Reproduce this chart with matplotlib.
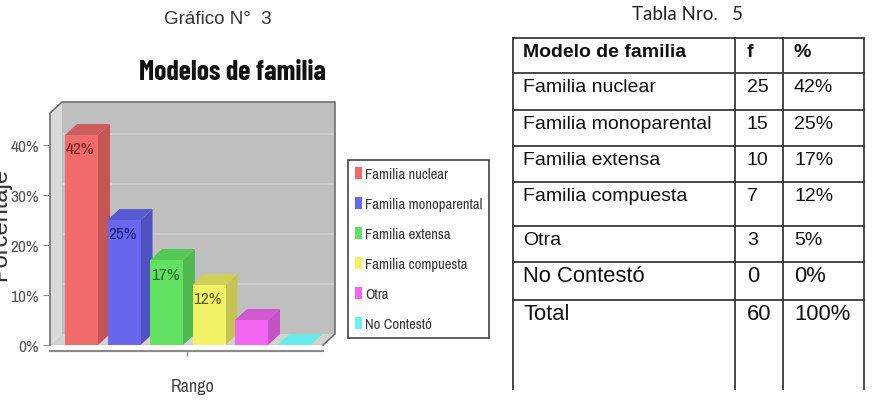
import matplotlib
matplotlib.use("Agg")
import matplotlib.pyplot as plt
from matplotlib.patches import Polygon
from matplotlib.ticker import PercentFormatter

# datos
categorias = ['Familia nuclear', 'Familia monoparental', 'Familia extensa',
              'Familia compuesta', 'Otra', 'No Contestó']
frecuencia = [25, 15, 10, 7, 3, 0]
porcentaje = [42, 25, 17, 12, 5, 0]
total_f = 60
total_pct = 100
yticks = [0, 10, 20, 30, 40]

# colores de las barras (frente, lado, techo, etiqueta)
c_front = ['#f26b6b', '#6868ee', '#62e062', '#f2f266', '#f266f2', '#6cf0f0']
c_side = ['#c45555', '#5050c0', '#4fb84f', '#c4c452', '#c452c4', '#52c4c4']
c_top = ['#cd5d5d', '#5a5ad0', '#56c856', '#d0d058', '#d058d0', '#66eaea']
c_lab = ['#7a2020', '#20207a', '#1f6a1f', '#5f5f18']

narrow = ['Archivo Narrow', 'DejaVu Sans']
cond_bold = ['Barlow Condensed', 'DejaVu Sans']
arial = ['Liberation Sans', 'DejaVu Sans']

W, H = 873, 402
fig = plt.figure(figsize=(W / 100, H / 100), dpi=100)

# ---- grafico 3D falso ----
px = 42.5                      # pixeles por categoria
xl = -31.5 / px                # borde izquierdo del plano frontal
xr = xl + 273 / px             # borde derecho del plano frontal
dx, dy = 12 / px, 2.2          # profundidad
ftop = 46.4                    # alto de la pared frontal
ax = fig.add_axes([50 / W, 56 / H, 285 / W, 243 / H])
ax.set_xlim(xl, xl + 285 / px)
ax.set_ylim(0, ftop + dy)
ax.patch.set_visible(False)
for s in ax.spines.values():
    s.set_visible(False)

# paredes
ax.add_patch(Polygon([(xl + dx, dy), (xr + dx, dy), (xr + dx, ftop + dy), (xl + dx, ftop + dy)],
                     closed=True, fc='#bfbfbf', ec='none', zorder=0))
ax.add_patch(Polygon([(xl, 0), (xl + dx, dy), (xl + dx, ftop + dy), (xl, ftop)],
                     closed=True, fc='#d9d9d9', ec='none', zorder=0))
ax.add_patch(Polygon([(xl, 0), (xr, 0), (xr + dx, dy), (xl + dx, dy)],
                     closed=True, fc='#d2d2d2', ec='none', zorder=0))
for t in yticks[1:]:
    ax.plot([xl + dx, xr + dx], [t + dy, t + dy], color='#d0d0d0', lw=1.2, zorder=1)
ax.plot([xl, xl, xl + dx, xr + dx, xr + dx, xr], [0, ftop, ftop + dy, ftop + dy, dy, 0],
        color='#6f6f6f', lw=1.2, zorder=1, clip_on=False)
ax.plot([xl, xr], [0, 0], color='#b8b8b8', lw=1, zorder=1)

# barras
w = 33 / px
xs = list(range(len(porcentaje)))
bars = ax.bar(xs, porcentaje, width=w, color=c_front, linewidth=0)
for i, (x, v) in enumerate(zip(xs, porcentaje)):
    bars.patches[i].set_zorder(3 + 2 * i + 1)
    a, b = x - w / 2, x + w / 2
    ax.add_patch(Polygon([(b, 0), (b + dx, dy), (b + dx, v + dy), (b, v)],
                         closed=True, fc=c_side[i], ec='none', zorder=3 + 2 * i))
    ax.add_patch(Polygon([(a, v), (a + dx, v + dy), (b + dx, v + dy), (b, v)],
                         closed=True, fc=c_top[i], ec='none', zorder=3 + 2 * i))
    if v >= 10:
        ax.text(a + 0.02, v - 2.8, f'{v}%', ha='left', va='center', fontsize=12.5,
                family=narrow, color=c_lab[i], zorder=20)

# ejes
ax.set_xticks([])
ax.set_yticks(yticks)
ax.yaxis.set_major_formatter(PercentFormatter(decimals=0))
ax.tick_params(axis='y', length=5, color='#8a8a8a', pad=3, labelsize=12.5, labelcolor='#555555')
for lb in ax.get_yticklabels():
    lb.set_family(narrow)
ax.plot([xl, xr], [-1.2, -1.2], color='#8a8a8a', lw=1.5, clip_on=False)
ax.plot([(xl + xr) / 2] * 2, [-1.2, -1.9], color='#8a8a8a', lw=1, clip_on=False)
ax.text(0.5, -41 / 243, 'Rango', transform=ax.transAxes, ha='center', va='center',
        fontsize=13, family=narrow, color='#444444')
fig.text(0, 1 - 225 / H, 'Porcentaje', rotation=90, ha='center', va='center',
         fontsize=17, family=arial, color='#333333')
fig.text(232 / W, 1 - 72 / H, 'Modelos de familia', ha='center', va='center',
         fontsize=20, family=cond_bold, weight='bold', color='#111111')
fig.text(218 / W, 1 - 20 / H, 'Gráfico N°  3', ha='center', va='center',
         fontsize=13.5, family=arial, color='#333333')

leg = ax.legend(bars.patches, categorias, loc='upper left',
                bbox_to_anchor=(348 / W, 1 - 161 / H), bbox_transform=fig.transFigure,
                prop={'family': narrow, 'size': 10.5}, labelcolor='#333333',
                frameon=True, fancybox=False, edgecolor='#444444', framealpha=1,
                handlelength=0.5, handleheight=0.95, handletextpad=0.2,
                labelspacing=1.08, borderpad=0.45, borderaxespad=0)
leg.get_frame().set_linewidth(1.2)

# ---- tabla ----
cols_x = [513, 735, 783, 864]
rows_y = [39, 74, 111, 147, 183, 227, 263, 301]
bottom_y = 390
tx = fig.add_axes([0, 0, 1, 1])
tx.set_xlim(0, W)
tx.set_ylim(H, 0)
tx.axis('off')
for y in rows_y:
    tx.plot([cols_x[0], cols_x[-1]], [y, y], color='#3a3a3a', lw=1.3)
for x in cols_x:
    tx.plot([x, x], [rows_y[0], bottom_y], color='#3a3a3a', lw=1.3)

encabezado = ['Modelo de familia', 'f', '%']
filas = [encabezado] + [[c, str(f), f'{p}%'] for c, f, p in zip(categorias, frecuencia, porcentaje)]
filas.append(['Total', str(total_f), f'{total_pct}%'])
sizes = [14, 14, 14, 14, 14, 14, 15.8, 15.8]
pads = [10, 12, 11]
for r, fila in enumerate(filas):
    for c, txt in enumerate(fila):
        tx.text(cols_x[c] + pads[c], rows_y[r] + 13.5, txt, ha='left', va='center',
                fontsize=sizes[r], family=arial, color='#111111',
                weight='bold' if r == 0 else 'normal')

fig.text(687 / W, 1 - 14 / H, 'Tabla Nro.   5', ha='center', va='center',
         fontsize=13.5, family=['Lato', 'DejaVu Sans'], color='#222222')

fig.savefig('out.png', dpi=100)
